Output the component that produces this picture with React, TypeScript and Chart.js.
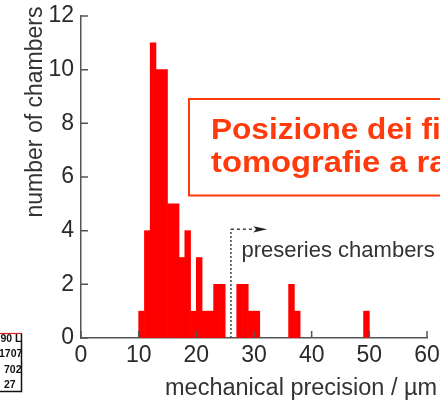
import { useEffect, useRef } from "react";
import { Chart, registerables } from "chart.js";

Chart.register(...registerables);

// Histogram bins (1 µm wide, listed by their lower edge) and chamber counts
const binStarts = [10, 11, 12, 13, 14, 15, 16, 17, 18, 19, 20, 21, 22, 23, 24, 27, 28, 29, 30, 36, 37, 49];
const chamberCounts = [1, 4, 11, 10, 10, 5, 5, 3, 4, 1, 3, 1, 1, 2, 2, 2, 2, 1, 1, 2, 1, 1];

const xTicks = [0, 10, 20, 30, 40, 50, 60];
const yTicks = [0, 2, 4, 6, 8, 10, 12];

const xAxisTitle = "mechanical precision / µm";
const yAxisTitle = "number of chambers";
const preseriesLabel = "preseries chambers";
const preseriesFrom = 26;
const preseriesArrowTo = 32.3;
const boxLines = ["Posizione dei fili", "tomografie a raggi X"];
const logoRows = ["90 L", "1707", "702", "27"];

const FONT = "'Liberation Sans', Arial, Helvetica, sans-serif";
const AXIS = "#555";
const INK = "#2a2a2a";
const BAR = "#ff0000";
const ACCENT = "#ff3a0c";

const overlay = {
  id: "overlay",
  afterDraw(chart: any) {
    const { ctx, chartArea: area } = chart;
    const x = chart.scales.x;
    const y = chart.scales.y;
    ctx.save();

    // inward tick marks
    ctx.strokeStyle = AXIS;
    ctx.lineWidth = 1.5;
    ctx.beginPath();
    xTicks.forEach((v) => {
      const px = x.getPixelForValue(v);
      ctx.moveTo(px, area.bottom);
      ctx.lineTo(px, area.bottom - 7);
    });
    yTicks.forEach((v) => {
      const py = y.getPixelForValue(v);
      ctx.moveTo(area.left, py);
      ctx.lineTo(area.left + 7, py);
    });
    ctx.stroke();

    // axis titles
    ctx.fillStyle = "#333";
    ctx.font = `23.5px ${FONT}`;
    ctx.textBaseline = "alphabetic";
    ctx.textAlign = "left";
    ctx.fillText(xAxisTitle, 165, 395);

    ctx.save();
    ctx.translate(42, 112);
    ctx.rotate(-Math.PI / 2);
    ctx.textAlign = "center";
    ctx.font = `23px ${FONT}`;
    ctx.fillText(yAxisTitle, 0, 0);
    ctx.restore();

    // preseries marker: dotted line and arrow
    const lx = x.getPixelForValue(preseriesFrom);
    const ax = x.getPixelForValue(preseriesArrowTo);
    const ay = y.getPixelForValue(4.05);
    ctx.strokeStyle = "#444";
    ctx.lineWidth = 1.5;
    ctx.setLineDash([2, 2]);
    ctx.beginPath();
    ctx.moveTo(lx, area.bottom);
    ctx.lineTo(lx, ay);
    ctx.stroke();
    ctx.setLineDash([3, 3]);
    ctx.beginPath();
    ctx.moveTo(lx, ay);
    ctx.lineTo(ax - 12, ay);
    ctx.stroke();
    ctx.setLineDash([]);
    ctx.fillStyle = "#222";
    ctx.beginPath();
    ctx.moveTo(ax, ay);
    ctx.lineTo(ax - 14, ay - 3.2);
    ctx.lineTo(ax - 11, ay);
    ctx.lineTo(ax - 14, ay + 3.2);
    ctx.closePath();
    ctx.fill();

    ctx.fillStyle = "#333";
    ctx.font = `22px ${FONT}`;
    ctx.fillText(preseriesLabel, 241.5, 257);

    // headline box
    ctx.strokeStyle = ACCENT;
    ctx.lineWidth = 2;
    ctx.strokeRect(189, 99, 300, 96.5);
    ctx.fillStyle = ACCENT;
    ctx.font = `bold 29.5px ${FONT}`;
    const lineStretch = [1.07, 1.11];
    boxLines.forEach((line, i) => {
      ctx.save();
      ctx.translate(211, 138.5 + i * 33.5);
      ctx.scale(lineStretch[i], 1);
      ctx.fillText(line, 0, 0);
      ctx.restore();
    });

    // small logo fragment, bottom left
    ctx.save();
    ctx.beginPath();
    ctx.rect(0, 330, 21, 64);
    ctx.clip();
    ctx.fillStyle = "#111";
    ctx.font = `bold 10.5px ${FONT}`;
    const rowX = [0.5, -1, 4, 4];
    const rowY = [342, 356.5, 372.5, 387.5];
    logoRows.forEach((r, i) => ctx.fillText(r, rowX[i], rowY[i]));
    ctx.restore();
    ctx.strokeStyle = "#d22";
    ctx.lineWidth = 1.2;
    ctx.beginPath();
    ctx.moveTo(0, 333.5);
    ctx.lineTo(22, 333.5);
    ctx.stroke();
    ctx.strokeStyle = "#111";
    ctx.lineWidth = 1.5;
    ctx.beginPath();
    ctx.moveTo(21.5, 333.5);
    ctx.lineTo(21.5, 391.5);
    ctx.lineTo(0, 391.5);
    ctx.stroke();

    ctx.restore();
  },
};

export default function App() {
  const canvasRef = useRef<HTMLCanvasElement | null>(null);

  useEffect(() => {
    if (!canvasRef.current) return;
    const data = binStarts.map((s, i) => ({ x: s + 0.5, y: chamberCounts[i] }));
    const chart = new Chart(canvasRef.current, {
      type: "bar",
      data: {
        datasets: [
          {
            data,
            backgroundColor: BAR,
            borderWidth: 0,
            barPercentage: 1,
            categoryPercentage: 1,
          },
        ],
      },
      options: {
        animation: false,
        responsive: false,
        devicePixelRatio: 1,
        layout: { padding: { top: 16, right: 13, left: 0, bottom: 0 } },
        plugins: { legend: { display: false }, tooltip: { enabled: false } },
        scales: {
          x: {
            type: "linear",
            min: 0,
            max: 60,
            offset: false,
            grid: { display: true, drawOnChartArea: false, drawTicks: false, offset: false },
            border: { display: true, color: AXIS, width: 1.5 },
            ticks: {
              stepSize: 10,
              autoSkip: false,
              maxRotation: 0,
              padding: 4,
              color: INK,
              font: { family: FONT, size: 23 },
            },
            afterFit: (s: any) => {
              s.height = 64;
              s.paddingLeft = 0;
              s.paddingRight = 0;
            },
          },
          y: {
            min: 0,
            max: 12,
            grid: { display: true, drawOnChartArea: false, drawTicks: false },
            border: { display: true, color: AXIS, width: 1.5 },
            ticks: {
              stepSize: 2,
              padding: 7,
              color: INK,
              font: { family: FONT, size: 23 },
            },
            afterFit: (s: any) => {
              s.width = 81;
              s.paddingTop = 0;
              s.paddingBottom = 0;
            },
          },
        },
      },
      plugins: [overlay],
    });
    return () => chart.destroy();
  }, []);

  return (
    <div style={{ position: "fixed", left: 0, top: 0, width: 440, height: 402, background: "#fff" }}>
      <canvas ref={canvasRef} width={440} height={402} style={{ display: "block" }} />
    </div>
  );
}
